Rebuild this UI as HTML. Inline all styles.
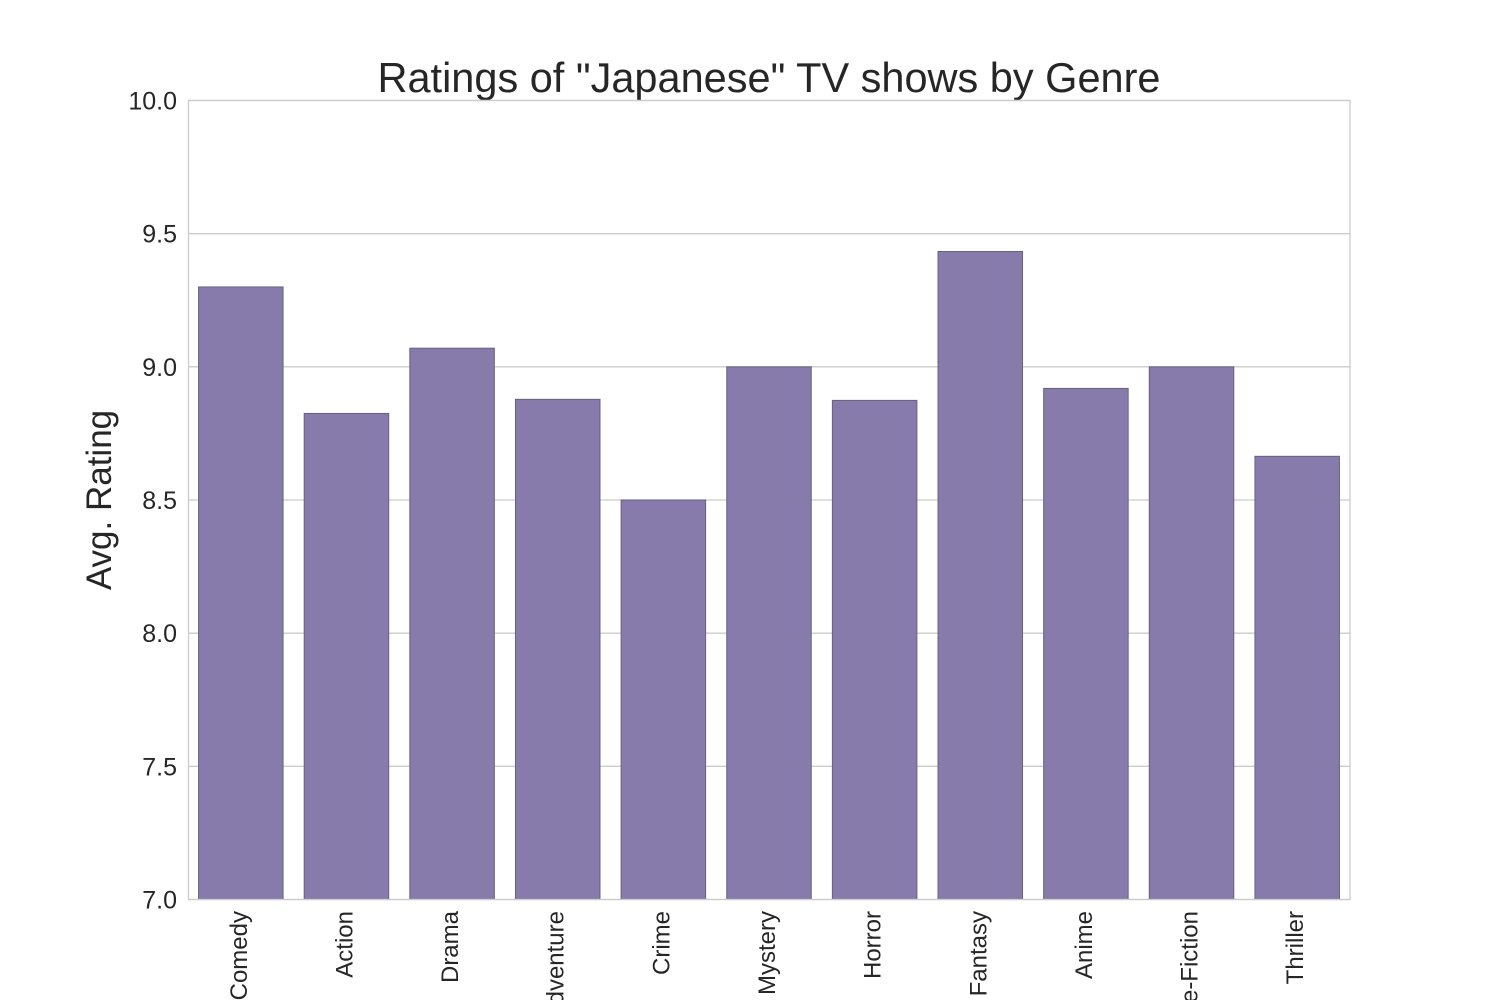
<!DOCTYPE html>
<html><head><meta charset="utf-8"><style>
html,body{margin:0;padding:0;background:#fff;width:1500px;height:1000px;overflow:hidden;}
svg{display:block;font-family:"Liberation Sans",Arial,sans-serif;}
</style></head><body>
<svg id="chart" width="1500" height="1000" viewBox="0 0 1500 1000" xmlns="http://www.w3.org/2000/svg" overflow="hidden">
<text x="769" y="92" text-anchor="middle" font-size="41.5" fill="#262626">Ratings of "Japanese" TV shows by Genre</text>
<text transform="translate(111,500) rotate(-90)" text-anchor="middle" font-size="35" fill="#262626">Avg. Rating</text>
<g id="grid"></g><g id="bars"></g><g id="labels"></g>
<rect x="188.5" y="100.5" width="1161.5" height="799" fill="none" stroke="#cccccc" stroke-width="1.3"/>
</svg>
<script>
const categories = ["Comedy","Action","Drama","Adventure","Crime","Mystery","Horror","Fantasy","Anime","Science-Fiction","Thriller"];
const ratings = [9.3, 8.825, 9.07, 8.878, 8.5, 9.0, 8.874, 9.433, 8.919, 9.0, 8.664];
const yTicks = [7.0, 7.5, 8.0, 8.5, 9.0, 9.5, 10.0];
const yTickLabels = ["7.0","7.5","8.0","8.5","9.0","9.5","10.0"];
const NS = "http://www.w3.org/2000/svg";
const X0 = 188, X1 = 1350, Y0 = 899.5, Y1 = 100.5, YMIN = 7, YMAX = 10;
const yScale = v => Y0 - (v - YMIN) / (YMAX - YMIN) * (Y0 - Y1);
const band = (X1 - X0) / categories.length;
const xCenter = i => X0 + band * (i + 0.5);
const bw = band * 0.8;
const grid = document.getElementById('grid');
yTicks.forEach((t, i) => {
  const y = yScale(t);
  const l = document.createElementNS(NS, 'line');
  
  
  l.setAttribute('x1', X0); l.setAttribute('x2', X1);
  l.setAttribute('y1', y); l.setAttribute('y2', y);
  l.setAttribute('stroke', '#cccccc'); l.setAttribute('stroke-width', '1.3');
  grid.appendChild(l);
  const tx = document.createElementNS(NS, 'text');
  
  
  tx.setAttribute('x', 177); tx.setAttribute('y', y + 9);
  tx.setAttribute('text-anchor', 'end'); tx.setAttribute('font-size', '25');
  tx.setAttribute('fill', '#262626');
  tx.textContent = yTickLabels[i];
  grid.appendChild(tx);
});
const bars = document.getElementById('bars'), labels = document.getElementById('labels');
categories.forEach((c, i) => {
  const y = yScale(ratings[i]);
  const r = document.createElementNS(NS, 'rect');
  
  
  r.setAttribute('x', xCenter(i) - bw / 2); r.setAttribute('y', y);
  r.setAttribute('width', bw); r.setAttribute('height', Y0 - y);
  r.setAttribute('fill', '#877bab'); r.setAttribute('stroke', '#6a6080'); r.setAttribute('stroke-width', '1');
  bars.appendChild(r);
  const t = document.createElementNS(NS, 'text');
  
  
  t.setAttribute('transform', 'translate(' + (xCenter(i) + 6) + ',911) rotate(-90)');
  t.setAttribute('text-anchor', 'end'); t.setAttribute('font-size', '24');
  t.setAttribute('fill', '#262626');
  t.textContent = c;
  labels.appendChild(t);
});
</script>
</body></html>
